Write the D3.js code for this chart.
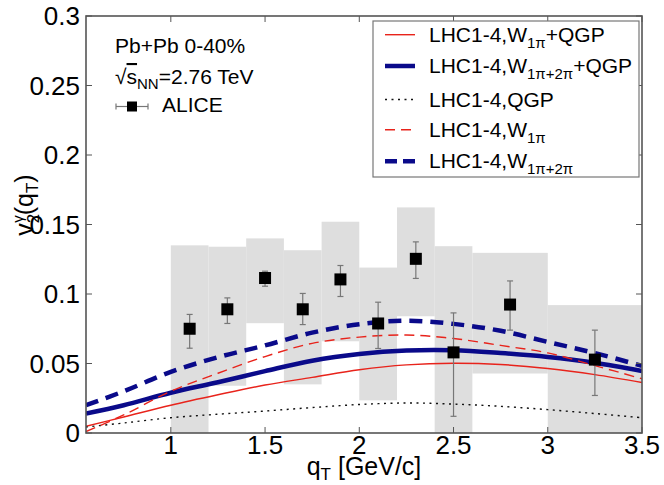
<!DOCTYPE html>
<html>
<head>
<meta charset="utf-8">
<script src="https://cdn.jsdelivr.net/npm/d3@7"></script>
<style>
  html, body { margin: 0; padding: 0; background: #fff; }
  svg { display: block; font-family: "Liberation Sans", Arial, Helvetica, sans-serif; }
</style>
</head>
<body>
<svg id="chart" width="664" height="485"></svg>
<script>
// ALICE direct-photon v2 data (Pb+Pb 0-40%), systematic boxes and statistical errors
const dataQ     = [1.1, 1.3, 1.5, 1.7, 1.9, 2.1, 2.3, 2.5, 2.8, 3.25];
const dataV2    = [0.075, 0.089, 0.1115, 0.089, 0.1105, 0.0788, 0.1253, 0.058, 0.0924, 0.0528];
const statLo    = [0.061, 0.0788, 0.1056, 0.078, 0.0982, 0.0608, 0.1112, 0.012, 0.074, 0.027];
const statHi    = [0.0853, 0.0972, 0.1164, 0.1004, 0.1205, 0.0941, 0.1375, 0.0864, 0.1094, 0.074];
const binLo     = [1.0, 1.2, 1.4, 1.6, 1.8, 2.0, 2.2, 2.4, 2.6, 3.0];
const binHi     = [1.2, 1.4, 1.6, 1.8, 2.0, 2.2, 2.4, 2.6, 3.0, 3.5];
const sysLo     = [0.0, 0.034, 0.079, 0.035, 0.066, 0.0235, 0.084, 0.0, 0.0428, 0.0];
const sysHi     = [0.135, 0.134, 0.140, 0.1315, 0.152, 0.119, 0.1623, 0.1344, 0.1296, 0.092];

// Model curves (LHC1-4 hydro), sampled on a common q_T grid
const curveQ        = [0.55, 0.75, 1.0, 1.25, 1.5, 1.75, 2.0, 2.25, 2.5, 2.75, 3.0, 3.25, 3.5];
const w1piQgp       = [0.0048, 0.0115, 0.020, 0.0275, 0.0345, 0.040, 0.0455, 0.049, 0.0502, 0.0493, 0.0464, 0.042, 0.0363];
const w12piQgp      = [0.014, 0.020, 0.029, 0.0365, 0.0445, 0.052, 0.0568, 0.0593, 0.0595, 0.0575, 0.0547, 0.0505, 0.0446];
const qgpOnly       = [0.0043, 0.0072, 0.011, 0.0135, 0.0158, 0.0183, 0.0205, 0.0216, 0.0208, 0.0192, 0.0168, 0.014, 0.011];
const w1piOnly      = [0.001, 0.013, 0.030, 0.043, 0.055, 0.0645, 0.069, 0.0705, 0.068, 0.063, 0.0576, 0.0485, 0.039];
const w12piOnly     = [0.020, 0.030, 0.044, 0.0545, 0.063, 0.0722, 0.0783, 0.0808, 0.0785, 0.0735, 0.0655, 0.0575, 0.0483];

const xTicks = [1, 1.5, 2, 2.5, 3, 3.5];
const yTicks = [0, 0.05, 0.1, 0.15, 0.2, 0.25, 0.3];

const RED = "#e8231b", NAVY = "#0a0a8a";
const series = [
  { v: w1piQgp,   color: RED,    width: 1.4, dash: null,    key: "12,6", main: "LHC1-4,W",   sub: "1\u03c0",          tail: "+QGP" },
  { v: w12piQgp,  color: NAVY,   width: 4.5, dash: null,    key: null,   main: "LHC1-4,W",   sub: "1\u03c0+2\u03c0",  tail: "+QGP" },
  { v: qgpOnly,   color: "#111", width: 1.4, dash: "2,4.5", key: "2,4.5", main: "LHC1-4,QGP", sub: "",                tail: "" },
  { v: w1piOnly,  color: RED,    width: 1.4, dash: "10,6",  key: "10,6", main: "LHC1-4,W",   sub: "1\u03c0",          tail: "" },
  { v: w12piOnly, color: NAVY,   width: 4.5, dash: "13,8",  key: "12,6", main: "LHC1-4,W",   sub: "1\u03c0+2\u03c0",  tail: "" }
];
series[0].key = null;

const L = 86, R = 642, T = 16, B = 433;
const svg = d3.select("#chart");
const x = d3.scaleLinear().domain([0.55, 3.5]).range([L, R]);
const y = d3.scaleLinear().domain([0, 0.3]).range([B, T]);

svg.append("defs").append("clipPath").attr("id", "plotclip")
  .append("rect").attr("x", L).attr("y", T).attr("width", R - L).attr("height", B - T);

const plot = svg.append("g").attr("clip-path", "url(#plotclip)");

// systematic uncertainty boxes
plot.selectAll("rect.sys").data(binLo).join("rect")
  .attr("class", "sys")
  .attr("x", (d, i) => x(binLo[i]))
  .attr("width", (d, i) => x(binHi[i]) - x(binLo[i]))
  .attr("y", (d, i) => y(sysHi[i]))
  .attr("height", (d, i) => y(sysLo[i]) - y(sysHi[i]))
  .attr("fill", "#dedede");

// model curves
const line = d3.line().x(d => x(d[0])).y(d => y(d[1])).curve(d3.curveCatmullRom);
series.forEach(s => {
  plot.append("path")
    .datum(curveQ.map((q, i) => [q, s.v[i]]))
    .attr("d", line)
    .attr("fill", "none")
    .attr("stroke", s.color)
    .attr("stroke-width", s.width)
    .attr("stroke-dasharray", s.dash);
});

// statistical error bars and markers
const pts = svg.append("g");
dataQ.forEach((q, i) => {
  const cx = x(q);
  pts.append("line").attr("x1", cx).attr("x2", cx).attr("y1", y(statLo[i])).attr("y2", y(statHi[i]))
    .attr("stroke", "#777").attr("stroke-width", 1.2);
  [statLo[i], statHi[i]].forEach(v => {
    pts.append("line").attr("x1", cx - 3).attr("x2", cx + 3).attr("y1", y(v)).attr("y2", y(v))
      .attr("stroke", "#777").attr("stroke-width", 1.2);
  });
});
pts.selectAll("rect.pt").data(dataQ).join("rect")
  .attr("class", "pt")
  .attr("x", d => x(d) - 6).attr("y", (d, i) => y(dataV2[i]) - 6)
  .attr("width", 12).attr("height", 12).attr("fill", "#000");

// frame with inward ticks on all four sides
const frame = svg.append("g");
const tickLen = 6, frameColor = "#555";
xTicks.forEach(t => {
  frame.append("line").attr("x1", x(t)).attr("x2", x(t)).attr("y1", B).attr("y2", B - tickLen).attr("stroke", frameColor);
  frame.append("line").attr("x1", x(t)).attr("x2", x(t)).attr("y1", T).attr("y2", T + tickLen).attr("stroke", frameColor);
});
yTicks.forEach(t => {
  frame.append("line").attr("x1", L).attr("x2", L + tickLen).attr("y1", y(t)).attr("y2", y(t)).attr("stroke", frameColor);
  frame.append("line").attr("x1", R).attr("x2", R - tickLen).attr("y1", y(t)).attr("y2", y(t)).attr("stroke", frameColor);
});
frame.append("rect").attr("x", L).attr("y", T).attr("width", R - L).attr("height", B - T)
  .attr("fill", "none").attr("stroke", frameColor).attr("stroke-width", 1.6);

// tick labels
const fmt = d => String(+d.toFixed(2));
svg.append("g").selectAll("text").data(xTicks).join("text")
  .attr("x", d => x(d)).attr("y", 454).attr("text-anchor", "middle")
  .attr("font-size", 26).text(fmt);
svg.append("g").selectAll("text").data(yTicks).join("text")
  .attr("x", 80).attr("y", d => y(d) + 9).attr("text-anchor", "end")
  .attr("font-size", 26).text(fmt);

// axis titles
const xt = svg.append("text").attr("x", 364).attr("y", 475).attr("text-anchor", "middle").attr("font-size", 25);
xt.append("tspan").text("q");
xt.append("tspan").attr("font-size", 17).attr("dy", 5).text("T");
xt.append("tspan").attr("dy", -5).text(" [GeV/c]");

const yt = svg.append("text").attr("transform", "translate(33,205) rotate(-90)").attr("text-anchor", "middle").attr("font-size", 25);
yt.append("tspan").text("v");
yt.append("tspan").attr("font-size", 17).attr("dy", 6).text("2");
yt.append("tspan").attr("font-size", 15).attr("dy", -16).attr("dx", -9).text("\u03b3");
yt.append("tspan").attr("dy", 10).text("(q");
yt.append("tspan").attr("font-size", 17).attr("dy", 5).text("T");
yt.append("tspan").attr("dy", -5).text(")");

// collision system annotation
const ann = svg.append("g").attr("font-size", 21);
ann.append("text").attr("x", 115).attr("y", 53).text("Pb+Pb 0-40%");
const s2 = ann.append("text").attr("x", 115).attr("y", 84);
s2.append("tspan").text("\u221a");
s2.append("tspan").attr("text-decoration", "overline").text("s");
s2.append("tspan").attr("font-size", 15).attr("dy", 5).text("NN");
s2.append("tspan").attr("dy", -5).text("=2.76 TeV");
ann.append("line").attr("x1", 116).attr("x2", 148).attr("y1", 106.5).attr("y2", 106.5).attr("stroke", "#777").attr("stroke-width", 1.2);
[116, 148].forEach(xx => ann.append("line").attr("x1", xx).attr("x2", xx).attr("y1", 103.5).attr("y2", 109.5).attr("stroke", "#777").attr("stroke-width", 1.2));
ann.append("rect").attr("x", 127).attr("y", 101.5).attr("width", 10).attr("height", 10).attr("fill", "#000");
ann.append("text").attr("x", 162).attr("y", 112).text("ALICE");

// model legend
const lg = svg.append("g");
lg.append("rect").attr("x", 373).attr("y", 21).attr("width", 266).attr("height", 156)
  .attr("fill", "#fff").attr("stroke", "#777").attr("stroke-width", 1.2);
const baselines = [41.7, 73, 106.5, 136.7, 168.3];
series.forEach((s, i) => {
  const by = baselines[i];
  lg.append("line").attr("x1", 385).attr("x2", 415).attr("y1", by - 7).attr("y2", by - 7)
    .attr("stroke", s.color).attr("stroke-width", s.width)
    .attr("stroke-dasharray", s.key);
  const t = lg.append("text").attr("x", 429).attr("y", by).attr("font-size", 21);
  t.append("tspan").text(s.main);
  if (s.sub) {
    t.append("tspan").attr("font-size", 15).attr("dy", 6).text(s.sub);
    if (s.tail) t.append("tspan").attr("dy", -6).text(s.tail);
  }
});
</script>
</body>
</html>
